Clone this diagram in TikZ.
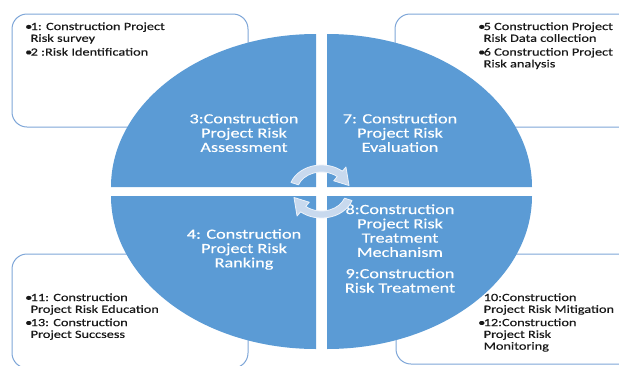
\documentclass[tikz,border=0pt]{standalone}
\usepackage{fontspec}
\setmainfont{Carlito}[FakeStretch=1.3,FakeBold=0.4]
\usetikzlibrary{calc}

\definecolor{quadblue}{RGB}{91,155,213}
\definecolor{boxline}{RGB}{126,166,216}
\definecolor{arrowfill}{RGB}{200,217,238}
\definecolor{arrowline}{RGB}{236,242,250}

% bullet with a fixed width so the wrapped lines hang under the text
\newcommand{\bul}{\makebox[5.5pt][l]{\textbullet}}

\begin{document}
\begin{tikzpicture}[x=1pt,y=1pt,
     quad/.style = {fill=quadblue},
     notebox/.style = {draw=boxline, line width=1pt, fill=white, rounded corners=15pt},
     quadtext/.style = {text=white, inner sep=0pt, anchor=base, font=\fontsize{14}{14.3}\selectfont},
     notetext/.style = {text=black!90, inner sep=0pt, anchor=base west, font=\fontsize{11}{11.8}\selectfont},
     cyclearrow/.style = {fill=arrowfill, draw=arrowline, line width=0.8pt, line join=round}
    ]
    \useasboundingbox (0,0) rectangle (619,-365);
    \clip (0,0) rectangle (619,-365);

    % note boxes behind the ellipse
    \draw[notebox] (12,-14) rectangle (248,-127);
    \draw[notebox] (395,-14) rectangle (645,-127);
    \draw[notebox] (12,-254) rectangle (248,-368);
    \draw[notebox] (396,-254) rectangle (645,-364);

    % four quarters of the ellipse
    \fill[quad] (316,-187) -- (111,-187) arc[start angle=180, end angle=90, x radius=205, y radius=153] -- cycle;
    \fill[quad] (327,-187) -- (532,-187) arc[start angle=0, end angle=90, x radius=205, y radius=153] -- cycle;
    \fill[quad] (316,-196) -- (111,-196) arc[start angle=180, end angle=270, x radius=205, y radius=153] -- cycle;
    \fill[quad] (327,-196) -- (532,-196) arc[start angle=0, end angle=-90, x radius=205, y radius=153] -- cycle;

    \node[notetext] (tlnote) at (25,-30) {\begin{tabular}[t]{@{}l@{}}
        \bul 1: Construction Project\\ \hspace{5.5pt}Risk survey\\[2pt]
        \bul 2 :Risk Identification\end{tabular}};
    \node[notetext] (trnote) at (478,-30) {\begin{tabular}[t]{@{}l@{}}
        \bul 5 Construction Project\\ \hspace{5.5pt}Risk Data collection\\[2pt]
        \bul 6 Construction Project\\ \hspace{5.5pt}Risk analysis\end{tabular}};
    \node[notetext] (blnote) at (25,-301) {\begin{tabular}[t]{@{}l@{}}
        \bul 11: Construction\\ \hspace{5.5pt}Project Risk Education\\[1.5pt]
        \bul 13: Construction\\ \hspace{5.5pt}Project Succsess\end{tabular}};
    \node[notetext] (brnote) at (478,-301) {\begin{tabular}[t]{@{}l@{}}
        \hspace{5.5pt}10:Construction\\ \hspace{5.5pt}Project Risk Mitigation\\[1.5pt]
        \bul 12:Construction\\ \hspace{5.5pt}Project Risk\\ \hspace{5.5pt}Monitoring\end{tabular}};

    \node[quadtext] (assess) at (244,-123.3) {\begin{tabular}[t]{@{}c@{}}
        3:Construction\\Project Risk\\Assessment\end{tabular}};
    \node[quadtext] (evaluate) at (400,-123.3) {\begin{tabular}[t]{@{}c@{}}
        7: Construction\\Project Risk\\Evaluation\end{tabular}};
    \node[quadtext] (ranking) at (244,-238.7) {\begin{tabular}[t]{@{}c@{}}
        4: Construction\\Project Risk\\Ranking\end{tabular}};
    \node[quadtext] (treatment) at (400,-214) {\begin{tabular}[t]{@{}c@{}}
        8:Construction\\Project Risk\\Treatment\\Mechanism\\[7pt]
        9:Construction\\Risk Treatment\end{tabular}};

    % the two turning arrows in the middle
    \coordinate (C) at (321.5,-191.5);
    \foreach \turn in {0,180} {
      \begin{scope}[shift={(C)}, rotate=\turn]
        \path[cyclearrow] (160:24.5 and 19.5) -- (160:32.5 and 26.5)
          arc[start angle=160, end angle=50, x radius=32.5, y radius=26.5]
          -- (50:38 and 32) -- (15:28.5 and 23) -- (50:19 and 14)
          -- (50:24.5 and 19.5)
          arc[start angle=50, end angle=160, x radius=24.5, y radius=19.5] -- cycle;
      \end{scope}
    }
\end{tikzpicture}
\end{document}
